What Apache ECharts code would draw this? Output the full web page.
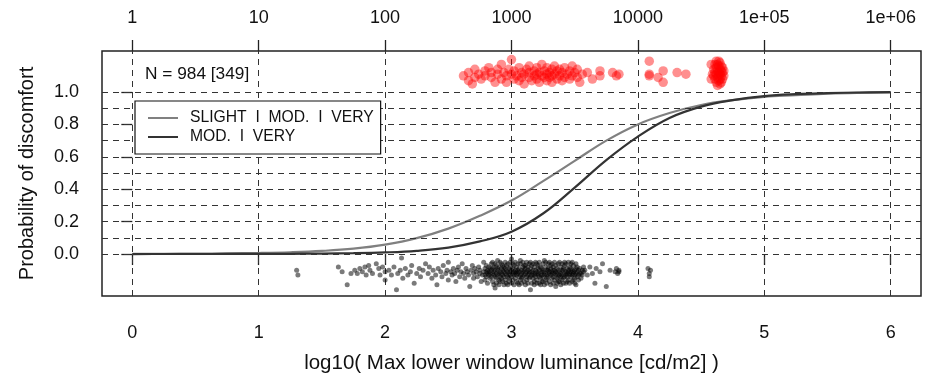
<!DOCTYPE html>
<html>
<head>
<meta charset="utf-8">
<script src="https://cdn.jsdelivr.net/npm/echarts@6/dist/echarts.min.js"></script>
<style>
  html, body { margin: 0; padding: 0; background: #fff; }
  #chart { width: 932px; height: 375px; }
</style>
</head>
<body>
<div id="chart"></div>
<script>
// fitted probability curves, every 0.25 log10 units
const curveX = [0, 0.25, 0.5, 0.75, 1, 1.25, 1.5, 1.75, 2, 2.25, 2.5, 2.75, 3, 3.25, 3.5, 3.75, 4, 4.25, 4.5, 4.75, 5, 5.25, 5.5, 5.75, 6];
const slightCurve = [0.001, 0.0016, 0.0025, 0.004, 0.0065, 0.011, 0.019, 0.033, 0.058, 0.098, 0.157, 0.236, 0.33, 0.45, 0.575, 0.70, 0.80, 0.87, 0.92, 0.95, 0.97, 0.98, 0.99, 0.995, 0.997];
const modCurve = [0, 0.0001, 0.0002, 0.0004, 0.0008, 0.0015, 0.003, 0.005, 0.01, 0.02, 0.04, 0.078, 0.138, 0.25, 0.41, 0.58, 0.725, 0.84, 0.91, 0.95, 0.975, 0.987, 0.993, 0.997, 0.999];

const bottomTicks = [0, 1, 2, 3, 4, 5, 6];
const topTickLabels = ['1', '10', '100', '1000', '10000', '1e+05', '1e+06'];
const yTicks = [0, 0.2, 0.4, 0.6, 0.8, 1.0];
const yGrid = [0, 0.1, 0.2, 0.3, 0.4, 0.5, 0.6, 0.7, 0.8, 0.9, 1.0];

// jittered responses, one row per x: [x, y, y, ...]
const noRows = [
  [1.30, -0.10], [1.31, -0.13],
  [1.63, -0.08], [1.66, -0.11], [1.70, -0.19], [1.73, -0.12], [1.76, -0.10], [1.78, -0.12],
  [1.80, -0.09], [1.82, -0.11], [1.84, -0.08], [1.85, -0.13], [1.87, -0.07], [1.88, -0.10],
  [1.90, -0.12], [1.93, -0.06], [1.95, -0.09], [1.96, -0.13], [1.98, -0.08], [2.00, -0.11, -0.16],
  [2.03, -0.10], [2.05, -0.13], [2.07, -0.08], [2.09, -0.22], [2.10, -0.12], [2.12, -0.10],
  [2.13, -0.025], [2.14, -0.15], [2.16, -0.09], [2.18, -0.13], [2.20, -0.11], [2.21, -0.07],
  [2.23, -0.18], [2.25, -0.12], [2.27, -0.09], [2.28, -0.14], [2.30, -0.10], [2.32, -0.06],
  [2.34, -0.12], [2.35, -0.08], [2.37, -0.15], [2.38, -0.10], [2.40, -0.13], [2.41, -0.19],
  [2.42, -0.09], [2.44, -0.11], [2.45, -0.14], [2.46, -0.07], [2.48, -0.12], [2.49, -0.10],
  [2.50, -0.16, -0.05], [2.52, -0.11], [2.53, -0.13], [2.54, -0.09], [2.55, -0.12],
  [2.56, -0.17], [2.57, -0.10], [2.58, -0.08], [2.59, -0.14], [2.60, -0.11], [2.61, -0.06],
  [2.62, -0.12], [2.63, -0.15], [2.64, -0.09], [2.65, -0.11], [2.66, -0.13], [2.67, -0.20],
  [2.68, -0.10], [2.69, -0.07], [2.70, -0.12, -0.15], [2.71, -0.09], [2.72, -0.11],
  [2.73, -0.14], [2.74, -0.08], [2.75, -0.12, -0.10], [2.76, -0.17], [2.77, -0.13], [2.78, -0.05, -0.11],
  [2.79, -0.09, -0.13, -0.16], [2.80, -0.11, -0.07, -0.14], [2.81, -0.12, -0.10, -0.18],
  [2.82, -0.08, -0.13, -0.11], [2.83, -0.15, -0.09, -0.12], [2.84, -0.10, -0.06, -0.14],
  [2.85, -0.12, -0.17, -0.09, -0.05], [2.86, -0.11, -0.08, -0.13, -0.19], [2.87, -0.14, -0.10, -0.21, -0.06],
  [2.88, -0.07, -0.12, -0.15, -0.18], [2.89, -0.10, -0.13, -0.09, -0.04], [2.90, -0.12, -0.16, -0.08, -0.19],
  [2.91, -0.11, -0.14, -0.05, -0.17], [2.92, -0.09, -0.12, -0.15, -0.06], [2.93, -0.13, -0.10, -0.17, -0.07],
  [2.94, -0.08, -0.11, -0.14, -0.19], [2.95, -0.12, -0.09, -0.16, -0.05], [2.96, -0.10, -0.13, -0.07, -0.18],
  [2.97, -0.14, -0.11, -0.19, -0.06], [2.98, -0.09, -0.12, -0.15, -0.17], [2.99, -0.11, -0.08, -0.13, -0.05],
  [3.00, -0.10, -0.14, -0.03, -0.18], [3.01, -0.12, -0.16, -0.09, -0.06], [3.02, -0.11, -0.07, -0.13, -0.19],
  [3.03, -0.15, -0.10, -0.12, -0.05], [3.04, -0.08, -0.13, -0.11, -0.17], [3.05, -0.12, -0.18, -0.10, -0.06],
  [3.06, -0.09, -0.14, -0.11, -0.19], [3.07, -0.13, -0.06, -0.16, -0.04], [3.08, -0.10, -0.12, -0.15, -0.18],
  [3.09, -0.11, -0.08, -0.14, -0.05], [3.10, -0.13, -0.10, -0.17, -0.07], [3.11, -0.09, -0.12, -0.07, -0.19],
  [3.12, -0.14, -0.11, -0.16, -0.05], [3.13, -0.10, -0.13, -0.08, -0.18], [3.14, -0.12, -0.15, -0.11, -0.06],
  [3.15, -0.09, -0.14, -0.22, -0.05], [3.16, -0.11, -0.07, -0.13, -0.18], [3.17, -0.15, -0.10, -0.12, -0.06],
  [3.18, -0.08, -0.13, -0.17, -0.19], [3.19, -0.12, -0.10, -0.14, -0.05], [3.20, -0.11, -0.16, -0.06, -0.18],
  [3.21, -0.13, -0.09, -0.12, -0.07], [3.22, -0.10, -0.14, -0.18, -0.05], [3.23, -0.12, -0.08, -0.15, -0.19],
  [3.24, -0.09, -0.11, -0.13, -0.17], [3.25, -0.14, -0.10, -0.17, -0.06], [3.26, -0.11, -0.13, -0.04, -0.19],
  [3.27, -0.08, -0.12, -0.16, -0.05], [3.28, -0.13, -0.10, -0.15, -0.18], [3.29, -0.10, -0.14, -0.09, -0.06],
  [3.30, -0.12, -0.17, -0.11, -0.05], [3.31, -0.09, -0.13, -0.07, -0.19], [3.32, -0.15, -0.11, -0.12, -0.06],
  [3.33, -0.10, -0.08, -0.14, -0.18], [3.34, -0.12, -0.16, -0.10, -0.05], [3.35, -0.11, -0.13, -0.20, -0.07],
  [3.36, -0.09, -0.12, -0.15, -0.18], [3.37, -0.14, -0.10, -0.06, -0.17], [3.38, -0.11, -0.13, -0.17, -0.05],
  [3.39, -0.08, -0.12, -0.14, -0.19], [3.40, -0.13, -0.10, -0.16, -0.06], [3.41, -0.10, -0.15, -0.09, -0.18],
  [3.42, -0.12, -0.07, -0.14, -0.05], [3.43, -0.11, -0.13, -0.18, -0.06], [3.44, -0.14, -0.09, -0.12, -0.17],
  [3.45, -0.10, -0.16, -0.11, -0.05], [3.46, -0.12, -0.08, -0.13, -0.18], [3.47, -0.09, -0.14, -0.11, -0.06],
  [3.48, -0.13, -0.10, -0.17, -0.05], [3.49, -0.11, -0.12, -0.07, -0.16], [3.50, -0.10, -0.15, -0.13, -0.18],
  [3.51, -0.12, -0.09, -0.19, -0.06], [3.52, -0.11, -0.14, -0.08], [3.53, -0.13, -0.10, -0.16],
  [3.54, -0.09, -0.12], [3.55, -0.12, -0.15], [3.56, -0.10, -0.13], [3.57, -0.11, -0.08],
  [3.58, -0.10], [3.60, -0.13], [3.62, -0.08], [3.64, -0.12], [3.66, -0.18], [3.67, -0.09],
  [3.70, -0.11], [3.72, -0.06], [3.75, -0.20], [3.78, -0.10], [3.82, -0.11], [3.83, -0.09],
  [3.84, -0.12], [3.85, -0.10, -0.11],
  [4.08, -0.09], [4.09, -0.12, -0.14], [4.10, -0.10]
];
const yesRows = [
  [2.62, 1.10], [2.66, 1.12, 1.07], [2.69, 1.05], [2.71, 1.14, 1.09], [2.74, 1.11], [2.76, 1.08],
  [2.79, 1.13, 1.10], [2.82, 1.15], [2.84, 1.09, 1.12], [2.87, 1.06], [2.89, 1.11, 1.14],
  [2.92, 1.08, 1.17], [2.94, 1.12], [2.96, 1.10, 1.06], [2.98, 1.14], [3.00, 1.20, 1.11],
  [3.02, 1.08, 1.13], [3.04, 1.10], [3.06, 1.15, 1.07], [3.08, 1.12, 1.09], [3.10, 1.05, 1.11],
  [3.12, 1.14], [3.14, 1.09, 1.12, 1.16], [3.16, 1.07], [3.18, 1.13, 1.10], [3.20, 1.15, 1.08, 1.11],
  [3.22, 1.12, 1.06], [3.24, 1.17, 1.10], [3.26, 1.09, 1.13], [3.28, 1.11, 1.15, 1.07],
  [3.30, 1.12, 1.09], [3.32, 1.14, 1.10, 1.06], [3.34, 1.11, 1.16], [3.36, 1.08, 1.13],
  [3.38, 1.10, 1.14], [3.40, 1.12, 1.07], [3.42, 1.15, 1.09], [3.44, 1.11], [3.46, 1.13, 1.08],
  [3.48, 1.10, 1.16], [3.50, 1.12], [3.52, 1.14, 1.09], [3.54, 1.06], [3.56, 1.11], [3.60, 1.12],
  [3.64, 1.08], [3.70, 1.13, 1.10], [3.80, 1.12], [3.83, 1.10], [3.85, 1.11],
  [4.09, 1.19, 1.11, 1.10], [4.16, 1.09], [4.20, 1.13, 1.06], [4.31, 1.12], [4.38, 1.11],
  [4.58, 1.17, 1.08], [4.59, 1.11], [4.60, 1.10, 1.14], [4.61, 1.08, 1.12, 1.17],
  [4.62, 1.06, 1.11, 1.15, 1.19], [4.63, 1.04, 1.09, 1.13, 1.17], [4.64, 1.07, 1.10, 1.12, 1.16, 1.19],
  [4.65, 1.05, 1.08, 1.11, 1.14, 1.18], [4.66, 1.06, 1.10, 1.13, 1.16], [4.67, 1.08, 1.12, 1.15],
  [4.68, 1.10, 1.13]
];

const FONT = '"Liberation Sans", Arial, Helvetica, sans-serif';

function expand(rows) {
  const out = [];
  rows.forEach(r => {
    for (let i = 1; i < r.length; i++) out.push([r[0], r[i]]);
  });
  return out;
}

const chart = echarts.init(document.getElementById('chart'), null, { renderer: 'canvas' });

const tickStyle = { show: true, inside: false, length: 11, lineStyle: { color: '#222', width: 1.3 } };

chart.setOption({
  animation: false,
  grid: {
    left: 102, right: 11, top: 51, bottom: 79,
    outerBoundsMode: 'none', containLabel: false,
    show: true, borderColor: '#222', borderWidth: 1.5, backgroundColor: 'transparent'
  },
  legend: {
    left: 135, top: 101, z: 20,
    orient: 'vertical',
    data: ['SLIGHT  I  MOD.  I  VERY', 'MOD.  I  VERY'],
    icon: 'rect', itemWidth: 30, itemHeight: 2, itemGap: 3,
    backgroundColor: '#fff', borderColor: '#111', borderWidth: 1.2,
    padding: [9, 7, 9, 13],
    textStyle: { fontFamily: FONT, fontSize: 15.7, color: '#111', padding: [0, 0, 0, 7] }
  },
  graphic: [{
    type: 'text', left: 145, top: 66,
    style: { text: 'N = 984 [349]', font: '17.3px ' + FONT, fill: '#111' }
  }],
  xAxis: [{
    type: 'value', position: 'bottom', min: -0.24, max: 6.24,
    name: 'log10( Max lower window luminance [cd/m2] )',
    nameLocation: 'middle', nameGap: 57,
    nameTextStyle: { fontFamily: FONT, fontSize: 20.5, color: '#111' },
    axisLine: { show: false },
    axisTick: Object.assign({ customValues: bottomTicks }, tickStyle),
    axisLabel: { customValues: bottomTicks, margin: 28, fontFamily: FONT, fontSize: 18, color: '#111' },
    splitLine: { show: false }
  }, {
    type: 'value', position: 'top', min: -0.24, max: 6.24,
    axisLine: { show: false },
    axisTick: Object.assign({ customValues: bottomTicks }, tickStyle),
    axisLabel: {
      customValues: bottomTicks, margin: 24, fontFamily: FONT, fontSize: 18, color: '#111',
      formatter: v => topTickLabels[bottomTicks.indexOf(Math.round(v))]
    },
    splitLine: { show: false }
  }],
  yAxis: {
    type: 'value', min: -0.259, max: 1.253,
    name: 'Probability of discomfort',
    nameLocation: 'middle', nameGap: 65, nameRotate: 90,
    nameTextStyle: { fontFamily: FONT, fontSize: 20, color: '#111' },
    axisLine: { show: false },
    axisTick: Object.assign({ customValues: yTicks }, tickStyle),
    axisLabel: {
      customValues: yTicks, margin: 23, fontFamily: FONT, fontSize: 18, color: '#111',
      formatter: v => v.toFixed(1)
    },
    splitLine: { show: false }
  },
  series: [{
    name: 'SLIGHT  I  MOD.  I  VERY',
    type: 'line', smooth: 0.4, showSymbol: false, symbol: 'none',
    data: curveX.map((x, i) => [x, slightCurve[i]]),
    lineStyle: { color: '#808080', width: 2.2 },
    itemStyle: { color: '#808080' },
    z: 3,
    markLine: {
      silent: true, symbol: ['none', 'none'], label: { show: false },
      lineStyle: { color: '#333', width: 1, type: [6, 5] },
      data: yGrid.map(v => ({ yAxis: v })).concat(bottomTicks.map(v => ({ xAxis: v })))
    }
  }, {
    name: 'MOD.  I  VERY',
    type: 'line', smooth: 0.4, showSymbol: false, symbol: 'none',
    data: curveX.map((x, i) => [x, modCurve[i]]),
    lineStyle: { color: '#333', width: 2.2 },
    itemStyle: { color: '#333' },
    z: 4
  }, {
    type: 'scatter',
    data: expand(noRows),
    symbolSize: 5,
    itemStyle: { color: 'rgba(0,0,0,0.65)' },
    z: 5
  }, {
    type: 'scatter',
    data: expand(yesRows),
    symbolSize: 9.5,
    itemStyle: { color: 'rgba(255,0,0,0.55)' },
    z: 5
  }]
});
</script>
</body>
</html>
